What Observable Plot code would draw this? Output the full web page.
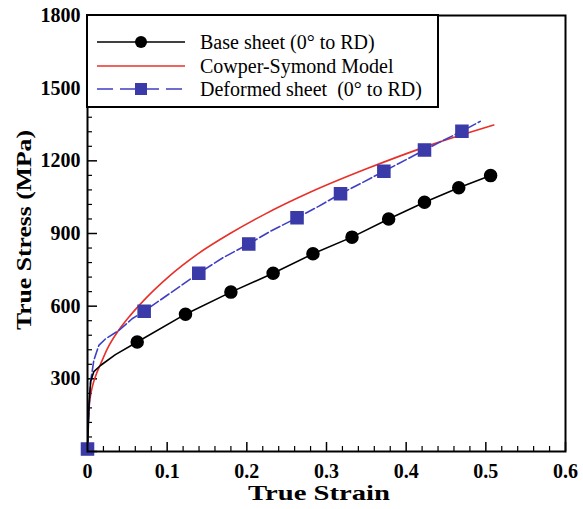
<!DOCTYPE html>
<html>
<head>
<meta charset="utf-8">
<script src="https://cdn.jsdelivr.net/npm/d3@7"></script>
<script src="https://cdn.jsdelivr.net/npm/@observablehq/plot@0.6"></script>
<style>
  html, body { margin: 0; padding: 0; background: #fff; }
  #wrap { position: relative; width: 583px; height: 509px; }
  #legend { position: absolute; left: 0; top: 0; }
</style>
</head>
<body>
<div id="wrap"></div>
<script>
// ---- Data ----
const baseStrain = [0, 0.002, 0.004, 0.008, 0.0163, 0.035, 0.0624, 0.123, 0.18, 0.233, 0.283, 0.332, 0.378, 0.423, 0.466, 0.506];
const baseStress = [0, 200, 290, 330, 355, 400, 452, 567, 658, 736, 816, 885, 960, 1029, 1089, 1139];
const baseMarkStrain = [0.0624, 0.123, 0.18, 0.233, 0.283, 0.332, 0.378, 0.423, 0.466, 0.506];
const baseMarkStress = [452, 567, 658, 736, 816, 885, 960, 1029, 1089, 1139];

const modelStrain = [0.0003, 0.0016, 0.004, 0.0059, 0.01, 0.0163, 0.025, 0.039, 0.054, 0.0707, 0.102, 0.139, 0.18, 0.221, 0.28, 0.351, 0.434, 0.51];
const modelStress = [95, 170, 235, 265, 310, 360, 425, 500, 563, 624, 722, 817, 902, 977, 1071, 1168, 1269, 1348];

const defStrain = [0, 0.001, 0.0038, 0.0079, 0.0142, 0.0226, 0.039, 0.056, 0.0711, 0.1, 0.1397, 0.17, 0.2024, 0.23, 0.263, 0.29, 0.3176, 0.345, 0.372, 0.40, 0.423, 0.447, 0.470, 0.493];
const defStress = [10, 120, 286, 376, 438, 465, 499, 548, 579, 645, 736, 800, 857, 910, 965, 1012, 1064, 1110, 1157, 1205, 1245, 1285, 1322, 1363];
const defMarkStrain = [0, 0.0711, 0.1397, 0.2024, 0.263, 0.3176, 0.372, 0.423, 0.470];
const defMarkStress = [10, 579, 736, 857, 965, 1064, 1157, 1245, 1322];

const xMajor = [0, 0.1, 0.2, 0.3, 0.4, 0.5, 0.6];
const xMinor = d3.range(0, 31).map(i => i * 0.02).filter(v => Math.abs(v * 10 - Math.round(v * 10)) > 1e-6);
const yMajor = [0, 300, 600, 900, 1200, 1500, 1800];
const yLabels = [300, 600, 900, 1200, 1500, 1800];
const yMinor = d3.range(0, 31).map(i => i * 60).filter(v => v % 300 !== 0);

const seriesNames = ["Base sheet (0° to RD)", "Cowper-Symond Model", "Deformed sheet  (0° to RD)"];

// ---- Layout ----
const W = 583, H = 509, mL = 87, mR = 18, mT = 15, mB = 58;
const xPerPx = 0.6 / (W - mL - mR);
const yPerPx = 1800 / (H - mT - mB);

const toRows = (xs, ys) => xs.map((x, i) => ({x, y: ys[i]}));
const base = toRows(baseStrain, baseStress);
const baseM = toRows(baseMarkStrain, baseMarkStress);
const model = toRows(modelStrain, modelStress);
const def = toRows(defStrain, defStress);
const defM = toRows(defMarkStrain, defMarkStress);

const RED = "#e8302a", BLUE = "#3f3fc4", BLUEFILL = "#3a3aa8";

const chart = Plot.plot({
  width: W, height: H,
  marginLeft: mL, marginRight: mR, marginTop: mT, marginBottom: mB,
  style: {fontFamily: "'Liberation Serif', 'Times New Roman', serif", fontSize: "20px", fontWeight: "bold", background: "#fff", color: "#000"},
  x: {domain: [0, 0.6]},
  y: {domain: [0, 1800]},
  marks: [
    // tick labels
    Plot.axisX({ticks: xMajor, tickSize: 0, tickPadding: 12, tickFormat: d => d === 0 ? "0" : d.toFixed(1), label: null}),
    Plot.axisY({ticks: yLabels, tickSize: 0, tickPadding: 7, tickFormat: d => String(d), label: null}),
    // inward ticks
    Plot.ruleX(xMajor, {x: d => d, y1: 0, y2: 9 * yPerPx, stroke: "#000", strokeWidth: 1.5}),
    Plot.ruleX(xMinor, {x: d => d, y1: 0, y2: 5 * yPerPx, stroke: "#000", strokeWidth: 1.2}),
    Plot.ruleY(yMajor, {y: d => d, x1: 0, x2: 10 * xPerPx, stroke: "#000", strokeWidth: 1.5}),
    Plot.ruleY(yMinor, {y: d => d, x1: 0, x2: 5 * xPerPx, stroke: "#000", strokeWidth: 1.2}),
    // series
    Plot.line(model, {x: "x", y: "y", stroke: RED, strokeWidth: 1.6, curve: "monotone-x"}),
    Plot.line(def, {x: "x", y: "y", stroke: BLUE, strokeWidth: 1.6, strokeDasharray: "10,3"}),
    Plot.line(base, {x: "x", y: "y", stroke: "#000", strokeWidth: 1.6}),
    Plot.dot(baseM, {x: "x", y: "y", r: 6, fill: "#000", stroke: "#000", symbol: "circle"}),
    Plot.dot(defM, {x: "x", y: "y", r: 6.8, fill: BLUEFILL, stroke: BLUEFILL, symbol: "square"}),
    Plot.frame({stroke: "#000", strokeWidth: 2})
  ]
});

document.getElementById("wrap").appendChild(chart);

// axis titles
const svg = d3.select(chart);
svg.append("text")
  .attr("x", 319).attr("y", 500)
  .attr("text-anchor", "middle")
  .attr("font-size", 22).attr("font-weight", "bold")
  .attr("textLength", 142).attr("lengthAdjust", "spacingAndGlyphs")
  .attr("fill", "#000")
  .text("True Strain");
svg.append("text")
  .attr("transform", "translate(31,230) rotate(-90)")
  .attr("text-anchor", "middle")
  .attr("font-size", 22).attr("font-weight", "bold")
  .attr("textLength", 200).attr("lengthAdjust", "spacingAndGlyphs")
  .attr("fill", "#000")
  .text("True Stress (MPa)");

// ---- Legend (overlay) ----
const leg = d3.select("#wrap").append("svg")
  .attr("id", "legend").attr("width", W).attr("height", 130)
  .style("font-family", "'Liberation Serif', 'Times New Roman', serif");
leg.append("rect").attr("x", 87).attr("y", 15).attr("width", 351).attr("height", 92)
  .attr("fill", "#fff").attr("stroke", "#000").attr("stroke-width", 2);
const rowsY = [42, 66, 89];
const lx1 = 97, lx2 = 185, lm = 141;
// row 1
leg.append("line").attr("x1", lx1).attr("x2", lx2).attr("y1", rowsY[0]).attr("y2", rowsY[0]).attr("stroke", "#000").attr("stroke-width", 1.6);
leg.append("circle").attr("cx", lm).attr("cy", rowsY[0]).attr("r", 6).attr("fill", "#000");
// row 2
leg.append("line").attr("x1", lx1).attr("x2", lx2).attr("y1", rowsY[1]).attr("y2", rowsY[1]).attr("stroke", RED).attr("stroke-width", 1.6);
// row 3
leg.append("line").attr("x1", lx1).attr("x2", lx2).attr("y1", rowsY[2]).attr("y2", rowsY[2]).attr("stroke", BLUE).attr("stroke-width", 1.6).attr("stroke-dasharray", "16,7");
leg.append("rect").attr("x", lm - 6).attr("y", rowsY[2] - 6).attr("width", 12).attr("height", 12).attr("fill", BLUEFILL);
seriesNames.forEach((name, i) => {
  leg.append("text").attr("x", 200).attr("y", rowsY[i] + 6.5)
    .attr("font-size", 20).attr("fill", "#000")
    .style("white-space", "pre")
    .text(name);
});
</script>
</body>
</html>
